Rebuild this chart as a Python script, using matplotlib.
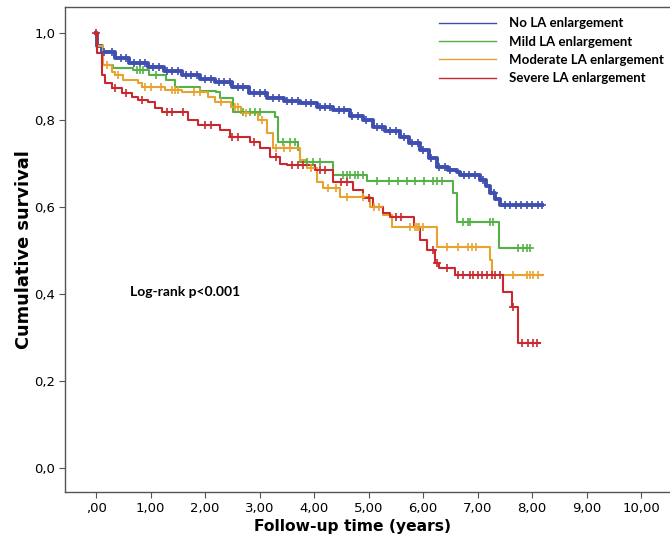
import matplotlib
matplotlib.use("Agg")
import matplotlib.pyplot as plt
import numpy as np

# Kaplan-Meier steps (time in years, cumulative survival after the step)
no_t = [0, 0.02, 0.11, 0.35, 0.6, 0.95, 1.25, 1.58, 1.9, 2.18, 2.5, 2.8, 3.14, 3.45, 3.74, 4.05,
        4.35, 4.66, 4.9, 5.08, 5.3, 5.58, 5.75, 5.94, 6.1, 6.26, 6.45, 6.62, 6.68, 7.05, 7.15,
        7.23, 7.32, 7.41]
no_s = [1.0, 0.97, 0.956, 0.943, 0.932, 0.922, 0.912, 0.903, 0.895, 0.887, 0.875, 0.862, 0.85,
        0.845, 0.839, 0.831, 0.823, 0.81, 0.80, 0.784, 0.774, 0.761, 0.748, 0.731, 0.712, 0.692,
        0.686, 0.68, 0.674, 0.662, 0.648, 0.632, 0.618, 0.605]
no_end = 8.18
no_cens = [0.15, 0.3, 0.45, 0.55, 0.7, 0.8, 0.9, 1.05, 1.15, 1.3, 1.4, 1.5, 1.65, 1.75, 1.85,
           2.0, 2.1, 2.25, 2.35, 2.45, 2.6, 2.7, 2.9, 3.0, 3.1, 3.25, 3.35, 3.5, 3.6, 3.7, 3.85,
           3.95, 4.1, 4.2, 4.3, 4.45, 4.55, 4.7, 4.8, 4.95, 5.15, 5.25, 5.4, 5.5, 5.65, 5.8,
           5.9, 6.0, 6.15, 6.3, 6.4, 6.5, 6.75, 6.85, 6.95, 7.1, 7.3, 7.5, 7.6, 7.7, 7.8, 7.9,
           8.0, 8.1, 8.18]

mild_t = [0, 0.02, 0.13, 0.31, 0.68, 0.97, 1.28, 1.45, 1.9, 2.2, 2.28, 2.51, 3.28, 3.34, 3.70,
          3.74, 4.35, 4.97, 6.55, 6.62, 7.39]
mild_s = [1.0, 0.97, 0.926, 0.92, 0.915, 0.903, 0.892, 0.876, 0.868, 0.864, 0.85, 0.818, 0.807,
          0.75, 0.731, 0.703, 0.674, 0.66, 0.632, 0.566, 0.506]
mild_end = 7.96
mild_cens = [0.75, 0.8, 0.86, 1.1, 2.7, 2.83, 2.92, 3.0, 3.43, 3.56, 3.65, 3.87, 3.98, 4.11,
             4.53, 4.6, 4.66, 4.75, 4.81, 4.9, 5.16, 5.38, 5.54, 5.71, 5.85, 6.02, 6.18, 6.26,
             6.35, 6.73, 6.83, 6.86, 7.23, 7.28, 7.74, 7.83, 7.91, 7.96]

mod_t = [0, 0.02, 0.13, 0.29, 0.35, 0.5, 0.77, 0.84, 1.27, 1.58, 2.06, 2.18, 2.47, 2.66, 2.97,
         3.14, 3.25, 3.74, 3.87, 4.05, 4.17, 4.48, 5.03, 5.27, 5.43, 6.26, 7.23, 7.27]
mod_s = [1.0, 0.97, 0.926, 0.91, 0.903, 0.892, 0.885, 0.876, 0.869, 0.864, 0.853, 0.841, 0.83,
         0.816, 0.80, 0.77, 0.736, 0.708, 0.69, 0.657, 0.644, 0.623, 0.60, 0.582, 0.554, 0.508,
         0.478, 0.444]
mod_end = 8.2
mod_cens = [0.2, 0.4, 0.9, 1.0, 1.2, 1.4, 1.45, 1.5, 1.8, 1.9, 2.3, 2.55, 2.6, 2.75, 3.05, 3.3,
            3.45, 3.55, 3.95, 4.25, 4.4, 4.6, 4.9, 5.1, 5.2, 5.76, 5.85, 5.89, 5.93, 6.0, 6.44,
            6.64, 6.83, 6.9, 6.97, 7.65, 7.91, 7.96, 8.02, 8.11]

sev_t = [0, 0.01, 0.11, 0.17, 0.29, 0.48, 0.66, 0.77, 0.96, 1.08, 1.21, 1.69, 1.87, 2.28, 2.46,
         2.83, 3.01, 3.19, 3.38, 3.5, 4.02, 4.35, 4.72, 4.9, 5.08, 5.27, 5.39, 5.83, 5.94, 6.07,
         6.22, 6.29, 6.59, 7.47, 7.63, 7.74]
sev_s = [1.0, 0.955, 0.903, 0.885, 0.874, 0.862, 0.853, 0.846, 0.841, 0.828, 0.818, 0.80, 0.789,
         0.777, 0.761, 0.75, 0.736, 0.715, 0.70, 0.697, 0.685, 0.657, 0.639, 0.62, 0.60, 0.586,
         0.577, 0.554, 0.524, 0.501, 0.471, 0.46, 0.444, 0.405, 0.37, 0.287]
sev_end = 8.15
sev_cens = [0.0, 0.35, 0.55, 0.85, 1.3, 1.4, 1.6, 2.0, 2.1, 2.5, 2.6, 2.9, 3.3, 3.6, 3.7, 3.8,
            4.1, 4.2, 4.5, 4.6, 5.0, 5.5, 5.6, 6.18, 6.26, 6.44, 6.64, 6.73, 6.86, 6.92, 7.0,
            7.08, 7.17, 7.27, 7.32, 7.41, 7.65, 7.82, 7.93, 8.02, 8.09]

labels = ["No LA enlargement", "Mild LA enlargement", "Moderate LA enlargement",
          "Severe LA enlargement"]
colors = ["#3f4fb0", "#55b146", "#e8a22e", "#c8282e"]

x_ticks = [0, 1, 2, 3, 4, 5, 6, 7, 8, 9, 10]
x_ticklabels = [",00", "1,00", "2,00", "3,00", "4,00", "5,00", "6,00", "7,00", "8,00", "9,00", "10,00"]
y_ticks = [0.0, 0.2, 0.4, 0.6, 0.8, 1.0]
y_ticklabels = ["0,0", "0,2", "0,4", "0,6", "0,8", "1,0"]

groups = [(no_t, no_s, no_end, no_cens), (mild_t, mild_s, mild_end, mild_cens),
          (mod_t, mod_s, mod_end, mod_cens), (sev_t, sev_s, sev_end, sev_cens)]

fig = plt.figure(figsize=(6.7, 5.45), dpi=100)
ax = fig.add_axes([65 / 670, 1 - 492 / 545, 605 / 670, 485 / 545])

handles = []
for (t, s, end, cens), col, lab in zip(groups, colors, labels):
    lw = 2.8 if col == colors[0] else 1.5
    ax.step(t + [end], s + [s[-1]], where="post", color=col, lw=lw, zorder=3)
    # censored observations on the curve
    idx = np.searchsorted(t, cens, side="right") - 1
    cy = np.array(s)[idx]
    ax.plot(cens, cy, ls="none", marker="+", ms=6, mew=1.2, color=col, zorder=4)
    h, = ax.plot([], [], color=col, lw=1, label=lab)
    handles.append(h)

ax.set_xlim(-0.57, 10.53)
ax.set_ylim(-0.055, 1.06)
ax.set_xticks(x_ticks)
ax.set_xticklabels(x_ticklabels)
ax.set_yticks(y_ticks)
ax.set_yticklabels(y_ticklabels)
ax.tick_params(length=4, width=0.8, color="#555555", labelsize=9.5, pad=3)
for side in ["left", "bottom", "top"]:
    ax.spines[side].set_color("#555555")
    ax.spines[side].set_linewidth(1)
ax.spines["right"].set_visible(False)

ax.set_xlabel("Follow-up time (years)", fontsize=11.2, fontweight="bold", family="DejaVu Sans")
ax.xaxis.set_label_coords(0.476, -0.055)
ax.set_ylabel("Cumulative survival", fontsize=12.8, fontweight="bold", family="DejaVu Sans",
              labelpad=1)

ax.text(0.62, 0.405, "Log-rank p<0.001", fontsize=10, fontweight="bold", family="Lato",
        va="center", ha="left")

leg = ax.legend(handles=handles, loc="upper right", bbox_to_anchor=(1.01, 1.003), frameon=False,
                prop={"family": "Lato", "weight": "bold", "size": 9.5}, handlelength=4.3,
                handletextpad=1.0, labelspacing=0.48)

fig.savefig("out.png", dpi=100)
